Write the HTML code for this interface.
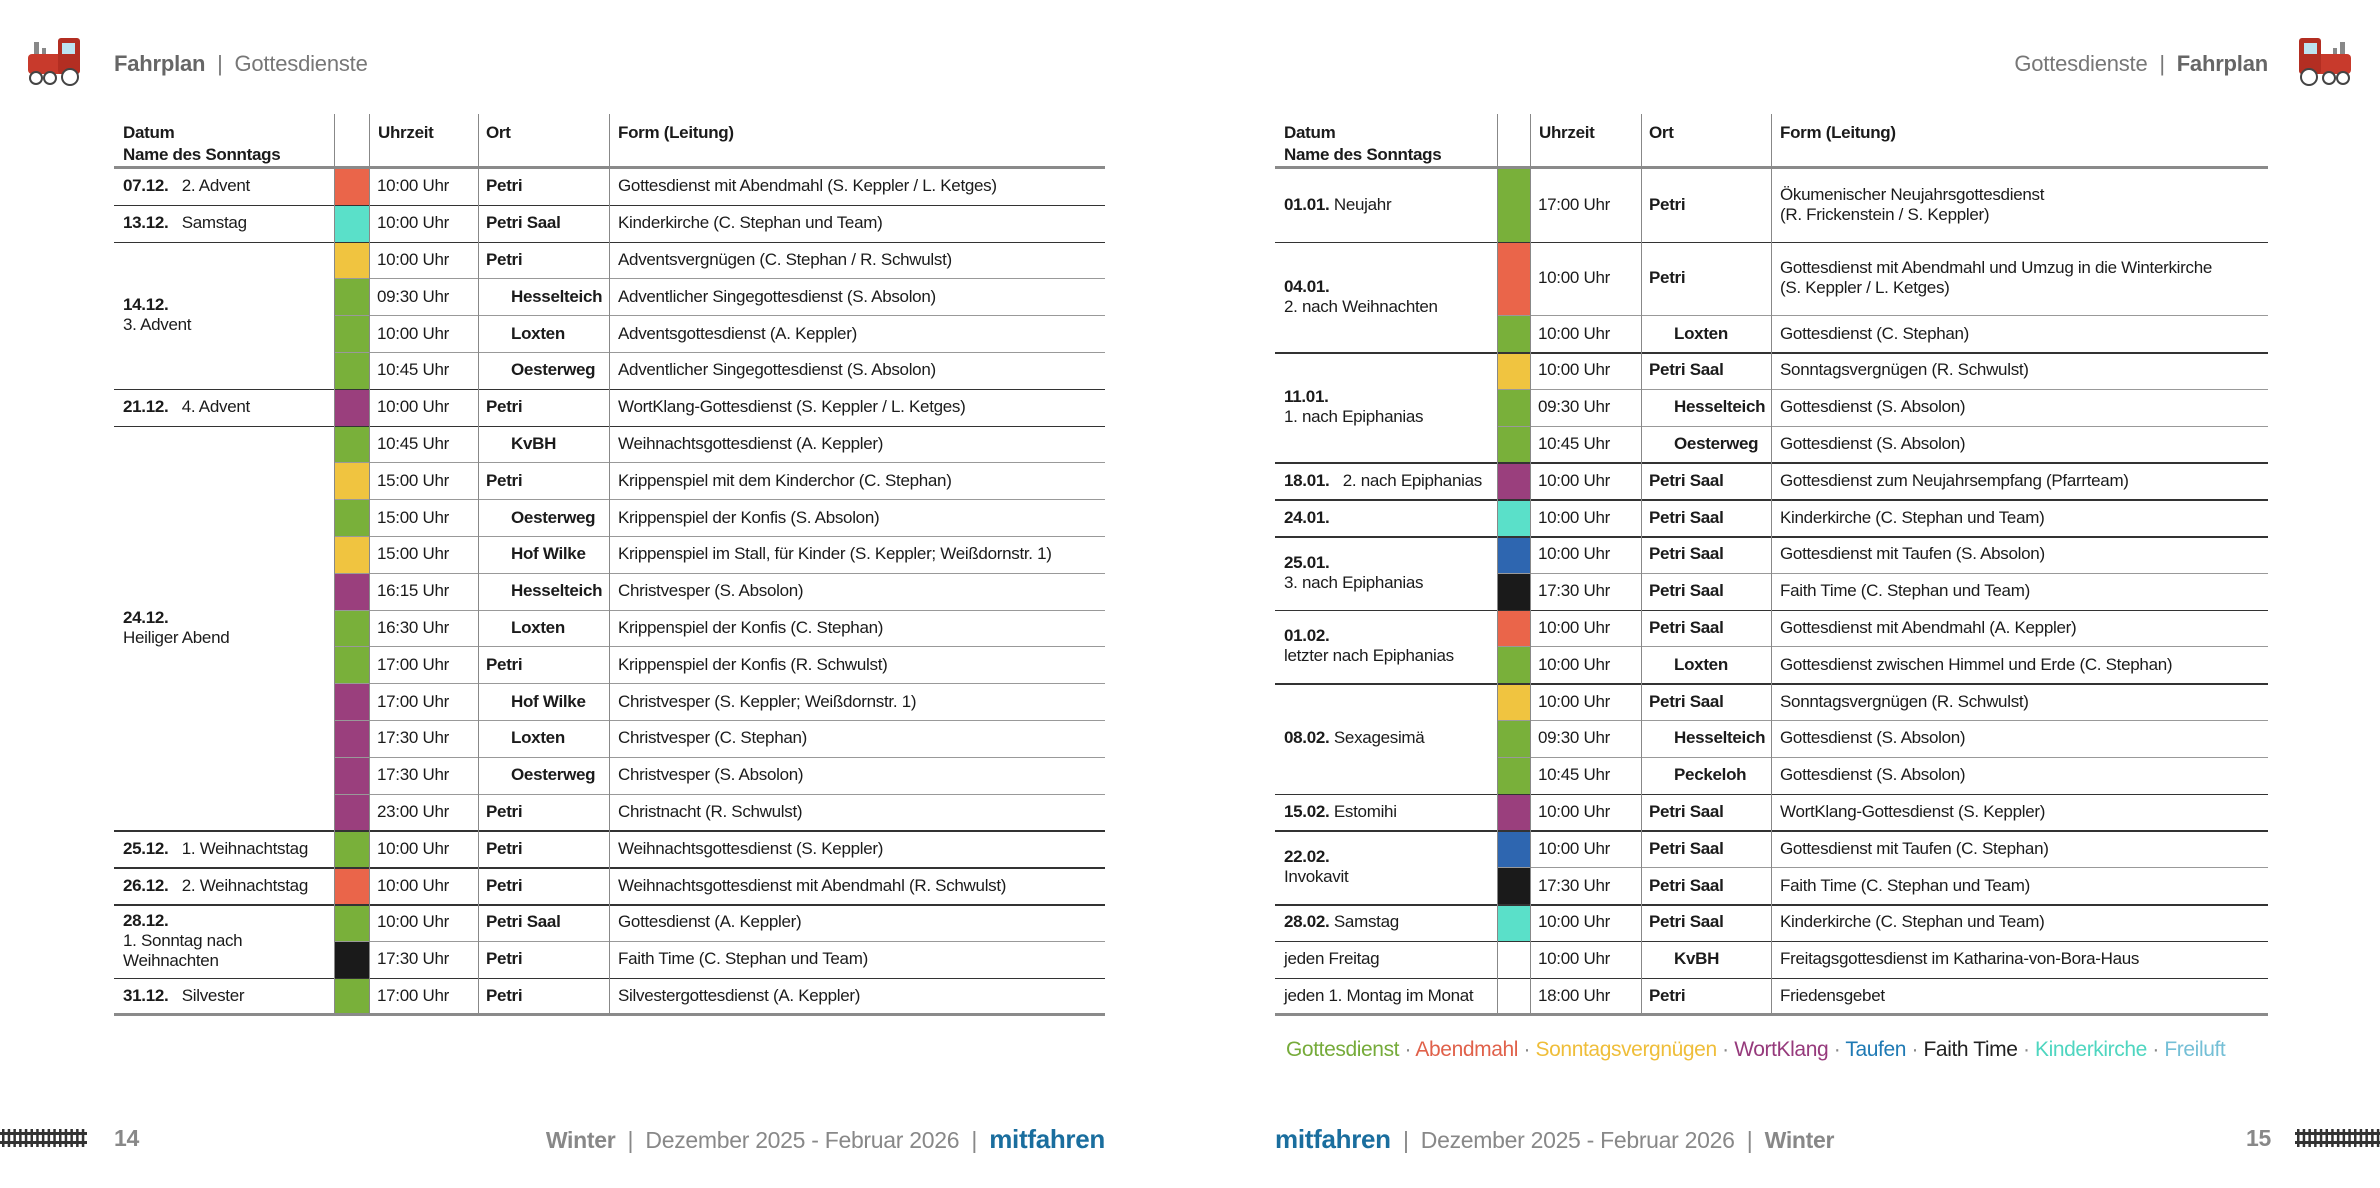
<!DOCTYPE html>
<html><head><meta charset="utf-8">
<style>
body{margin:0;width:2380px;height:1188px;background:#fff;position:relative;overflow:hidden;font-family:"Liberation Sans",sans-serif;color:#1b1b1b}
.a{position:absolute}
.t{position:absolute;font-size:17px;letter-spacing:-0.3px;white-space:nowrap;line-height:20px}
.b{font-weight:bold}
.hd{font-size:22px;color:#777;letter-spacing:-0.2px}
.ft{font-size:23px;color:#888;letter-spacing:-0.3px}
</style></head><body>
<svg class="a" style="left:26px;top:36px" width="58" height="50" viewBox="0 0 58 50">
<rect x="8" y="6" width="5" height="12" fill="#888"/><rect x="16" y="12" width="4" height="8" fill="#888"/>
<rect x="2" y="18" width="40" height="20" rx="4" fill="#c83a2c"/><rect x="32" y="2" width="22" height="36" rx="3" fill="#b32e22"/>
<rect x="36" y="7" width="13" height="11" fill="#bde3f0"/>
<circle cx="10" cy="42" r="6" fill="#fff" stroke="#444" stroke-width="2"/><circle cx="24" cy="42" r="6" fill="#fff" stroke="#444" stroke-width="2"/><circle cx="44" cy="41" r="8" fill="#fff" stroke="#444" stroke-width="2"/>
</svg>
<div class="a hd" style="left:114px;top:51px"><b style="color:#666">Fahrplan</b> &nbsp;|&nbsp; Gottesdienste</div>
<div class="a hd" style="right:112px;top:51px">Gottesdienste &nbsp;|&nbsp; <b style="color:#666">Fahrplan</b></div>
<svg class="a" style="left:2295px;top:36px" width="58" height="50" viewBox="0 0 58 50">
<g transform="translate(58,0) scale(-1,1)">
<rect x="8" y="6" width="5" height="12" fill="#888"/><rect x="16" y="12" width="4" height="8" fill="#888"/>
<rect x="2" y="18" width="40" height="20" rx="4" fill="#c83a2c"/><rect x="32" y="2" width="22" height="36" rx="3" fill="#b32e22"/>
<rect x="36" y="7" width="13" height="11" fill="#bde3f0"/>
<circle cx="10" cy="42" r="6" fill="#fff" stroke="#444" stroke-width="2"/><circle cx="24" cy="42" r="6" fill="#fff" stroke="#444" stroke-width="2"/><circle cx="44" cy="41" r="8" fill="#fff" stroke="#444" stroke-width="2"/></g>
</svg>

<div id="left"></div>
<div id="right"></div>

<div class="a" style="left:1286px;top:1038px;font-size:21px;letter-spacing:-0.4px;white-space:nowrap">
<span style="color:#76ab3a">Gottesdienst</span><span style="color:#888"> · </span><span style="color:#e0614a">Abendmahl</span><span style="color:#888"> · </span><span style="color:#efbe3a">Sonntagsvergnügen</span><span style="color:#888"> · </span><span style="color:#963a7c">WortKlang</span><span style="color:#888"> · </span><span style="color:#1f7ab4">Taufen</span><span style="color:#888"> · </span><span style="color:#222">Faith Time</span><span style="color:#888"> · </span><span style="color:#4fd6c0">Kinderkirche</span><span style="color:#888"> · </span><span style="color:#74bfd6">Freiluft</span></div>

<svg class="a" style="left:0;top:1127px" width="87" height="22"><rect x="0" y="5" width="87" height="3" fill="#333"/><rect x="0" y="14" width="87" height="3" fill="#333"/><g id="tl"></g></svg>
<svg class="a" style="left:2295px;top:1127px" width="87" height="22"><rect x="0" y="5" width="87" height="3" fill="#333"/><rect x="0" y="14" width="87" height="3" fill="#333"/><g id="tr"></g></svg>
<div class="a ft b" style="left:114px;top:1125px">14</div>
<div class="a ft" style="right:1275px;top:1124px"><b style="color:#888">Winter</b> &nbsp;|&nbsp; Dezember 2025 - Februar 2026 &nbsp;|&nbsp; <b style="color:#1a6e9e;font-size:26px">mitfahren</b></div>
<div class="a ft" style="left:1275px;top:1124px"><b style="color:#1a6e9e;font-size:26px">mitfahren</b> &nbsp;|&nbsp; Dezember 2025 - Februar 2026 &nbsp;|&nbsp; <b style="color:#888">Winter</b></div>
<div class="a ft b" style="left:2246px;top:1125px">15</div>

<script>
const C={g:'#79b03a',r:'#ea654a',c:'#5ae0c9',y:'#f0c440',p:'#9a3f7d',b:'#2e66b0',k:'#1a1a1a',n:'#fff'};
const leftGroups=[
 {d:'07.12.',n:'2. Advent',inl:1,rows:[['r','10:00 Uhr','Petri',0,'Gottesdienst mit Abendmahl (S. Keppler / L. Ketges)']]},
 {d:'13.12.',n:'Samstag',inl:1,rows:[['c','10:00 Uhr','Petri Saal',0,'Kinderkirche (C. Stephan und Team)']]},
 {d:'14.12.',n:'3. Advent',rows:[['y','10:00 Uhr','Petri',0,'Adventsvergnügen (C. Stephan / R. Schwulst)'],['g','09:30 Uhr','Hesselteich',1,'Adventlicher Singegottesdienst (S. Absolon)'],['g','10:00 Uhr','Loxten',1,'Adventsgottesdienst (A. Keppler)'],['g','10:45 Uhr','Oesterweg',1,'Adventlicher Singegottesdienst (S. Absolon)']]},
 {d:'21.12.',n:'4. Advent',inl:1,rows:[['p','10:00 Uhr','Petri',0,'WortKlang-Gottesdienst (S. Keppler / L. Ketges)']]},
 {d:'24.12.',n:'Heiliger Abend',rows:[['g','10:45 Uhr','KvBH',1,'Weihnachtsgottesdienst (A. Keppler)'],['y','15:00 Uhr','Petri',0,'Krippenspiel mit dem Kinderchor (C. Stephan)'],['g','15:00 Uhr','Oesterweg',1,'Krippenspiel der Konfis (S. Absolon)'],['y','15:00 Uhr','Hof Wilke',1,'Krippenspiel im Stall, für Kinder (S. Keppler; Weißdornstr. 1)'],['p','16:15 Uhr','Hesselteich',1,'Christvesper (S. Absolon)'],['g','16:30 Uhr','Loxten',1,'Krippenspiel der Konfis (C. Stephan)'],['g','17:00 Uhr','Petri',0,'Krippenspiel der Konfis (R. Schwulst)'],['p','17:00 Uhr','Hof Wilke',1,'Christvesper (S. Keppler; Weißdornstr. 1)'],['p','17:30 Uhr','Loxten',1,'Christvesper (C. Stephan)'],['p','17:30 Uhr','Oesterweg',1,'Christvesper (S. Absolon)'],['p','23:00 Uhr','Petri',0,'Christnacht (R. Schwulst)']]},
 {d:'25.12.',n:'1. Weihnachtstag',inl:1,rows:[['g','10:00 Uhr','Petri',0,'Weihnachtsgottesdienst (S. Keppler)']]},
 {d:'26.12.',n:'2. Weihnachtstag',inl:1,rows:[['r','10:00 Uhr','Petri',0,'Weihnachtsgottesdienst mit Abendmahl (R. Schwulst)']]},
 {d:'28.12.',n:'1. Sonntag nach<br>Weihnachten',rows:[['g','10:00 Uhr','Petri Saal',0,'Gottesdienst (A. Keppler)'],['k','17:30 Uhr','Petri',0,'Faith Time (C. Stephan und Team)']]},
 {d:'31.12.',n:'Silvester',inl:1,rows:[['g','17:00 Uhr','Petri',0,'Silvestergottesdienst (A. Keppler)']]}
];
const rightGroups=[
 {d:'01.01.',n:'Neujahr',inl:2,rows:[['g','17:00 Uhr','Petri',0,'Ökumenischer Neujahrsgottesdienst<br>(R. Frickenstein / S. Keppler)',2]]},
 {d:'04.01.',n:'2. nach Weihnachten',rows:[['r','10:00 Uhr','Petri',0,'Gottesdienst mit Abendmahl und Umzug in die Winterkirche<br>(S. Keppler / L. Ketges)',2],['g','10:00 Uhr','Loxten',1,'Gottesdienst (C. Stephan)']]},
 {d:'11.01.',n:'1. nach Epiphanias',rows:[['y','10:00 Uhr','Petri Saal',0,'Sonntagsvergnügen (R. Schwulst)'],['g','09:30 Uhr','Hesselteich',1,'Gottesdienst (S. Absolon)'],['g','10:45 Uhr','Oesterweg',1,'Gottesdienst (S. Absolon)']]},
 {d:'18.01.',n:'2. nach Epiphanias',inl:1,rows:[['p','10:00 Uhr','Petri Saal',0,'Gottesdienst zum Neujahrsempfang (Pfarrteam)']]},
 {d:'24.01.',n:'',inl:1,rows:[['c','10:00 Uhr','Petri Saal',0,'Kinderkirche (C. Stephan und Team)']]},
 {d:'25.01.',n:'3. nach Epiphanias',rows:[['b','10:00 Uhr','Petri Saal',0,'Gottesdienst mit Taufen (S. Absolon)'],['k','17:30 Uhr','Petri Saal',0,'Faith Time (C. Stephan und Team)']]},
 {d:'01.02.',n:'letzter nach Epiphanias',rows:[['r','10:00 Uhr','Petri Saal',0,'Gottesdienst mit Abendmahl (A. Keppler)'],['g','10:00 Uhr','Loxten',1,'Gottesdienst zwischen Himmel und Erde (C. Stephan)']]},
 {d:'08.02.',n:'Sexagesimä',inl:2,rows:[['y','10:00 Uhr','Petri Saal',0,'Sonntagsvergnügen (R. Schwulst)'],['g','09:30 Uhr','Hesselteich',1,'Gottesdienst (S. Absolon)'],['g','10:45 Uhr','Peckeloh',1,'Gottesdienst (S. Absolon)']]},
 {d:'15.02.',n:'Estomihi',inl:2,rows:[['p','10:00 Uhr','Petri Saal',0,'WortKlang-Gottesdienst (S. Keppler)']]},
 {d:'22.02.',n:'Invokavit',rows:[['b','10:00 Uhr','Petri Saal',0,'Gottesdienst mit Taufen (C. Stephan)'],['k','17:30 Uhr','Petri Saal',0,'Faith Time (C. Stephan und Team)']]},
 {d:'28.02.',n:'Samstag',inl:2,rows:[['c','10:00 Uhr','Petri Saal',0,'Kinderkirche (C. Stephan und Team)']]},
 {d:'',n:'jeden Freitag',inl:3,rows:[['n','10:00 Uhr','KvBH',1,'Freitagsgottesdienst im Katharina-von-Bora-Haus']]},
 {d:'',n:'jeden 1. Montag im Monat',inl:3,rows:[['n','18:00 Uhr','Petri',0,'Friedensgebet']]}
];
const RH=36.8,TOP=114,HH=54;
function el(parent,cls,css,html,name){const e=document.createElement('div');e.className=cls;e.style.cssText=css;if(html!==undefined)e.innerHTML=html;


parent.appendChild(e);return e;}
function table(host,x0,w,groups){
 const xs=[x0];w.forEach(v=>xs.push(xs[xs.length-1]+v));
 let y=TOP+HH;
 groups.forEach(g=>{g.h=g.rows.reduce((s,r)=>s+(r[5]||1)*RH,0);});
 const bottom=y+groups.reduce((s,g)=>s+g.h,0);
 el(host,'t b','left:'+(xs[0]+9)+'px;top:'+(TOP+8)+'px;line-height:22px','Datum<br>Name des Sonntags','header-datum');
 el(host,'t b','left:'+(xs[2]+9)+'px;top:'+(TOP+8)+'px;line-height:22px','Uhrzeit','header-uhrzeit');
 el(host,'t b','left:'+(xs[3]+8)+'px;top:'+(TOP+8)+'px;line-height:22px','Ort','header-ort');
 el(host,'t b','left:'+(xs[4]+9)+'px;top:'+(TOP+8)+'px;line-height:22px','Form (Leitung)','header-form');
 groups.forEach((g,gi)=>{
  const gy=y;
  let lab;
  if(g.inl===1) lab='<b>'+g.d+'</b>&nbsp;&nbsp; '+g.n;
  else if(g.inl===2) lab='<b>'+g.d+'</b> '+g.n;
  else if(g.inl===3) lab=g.n;
  else lab='<b>'+g.d+'</b><br>'+g.n;
  el(host,'a','left:'+(xs[0]+9)+'px;top:'+gy+'px;height:'+g.h+'px;display:flex;align-items:center;font-size:17px;letter-spacing:-0.3px;line-height:20px;white-space:nowrap','<div>'+lab+'</div>','date-cell-'+(g.d||('row'+gi)));
  g.rows.forEach((r,ri)=>{
   const h=(r[5]||1)*RH;
   el(host,'a','left:'+xs[1]+'px;top:'+(y+1)+'px;width:'+w[1]+'px;height:'+(h-1)+'px;background:'+C[r[0]],undefined,'category-color-cell');
   el(host,'t','left:'+(xs[2]+8)+'px;top:'+(y+h/2-10)+'px','<span>'+r[1]+'</span>','time-cell');
   el(host,'t b','left:'+(xs[3]+(r[3]?33:8))+'px;top:'+(y+h/2-10)+'px',r[2],'location-cell');
   const lines=(r[4].match(/<br>/g)||[]).length+1;
   el(host,'t','left:'+(xs[4]+9)+'px;top:'+(y+h/2-10*lines)+'px',r[4],'service-cell');
   if(ri>0) el(host,'a','left:'+xs[1]+'px;top:'+y+'px;width:'+(xs[5]-xs[1])+'px;height:1px;background:#999',undefined,'row-divider');
   y+=h;
  });
  if(gi>0) el(host,'a','left:'+xs[0]+'px;top:'+gy+'px;width:'+(xs[5]-xs[0])+'px;height:1.5px;background:#333',undefined,'group-divider');
 });
 for(let i=1;i<5;i++) el(host,'a','left:'+xs[i]+'px;top:'+TOP+'px;width:1px;height:'+(bottom-TOP)+'px;background:#888',undefined,'column-divider');
 el(host,'a','left:'+xs[0]+'px;top:'+(TOP+HH-2)+'px;width:'+(xs[5]-xs[0])+'px;height:3px;background:#8a8a8a',undefined,'header-rule');
 el(host,'a','left:'+xs[0]+'px;top:'+(bottom-1)+'px;width:'+(xs[5]-xs[0])+'px;height:3px;background:#8a8a8a',undefined,'bottom-rule');
}
table(document.getElementById('left'),114,[220,35,109,131,496],leftGroups);
table(document.getElementById('right'),1275,[222,33,111,130,497],rightGroups);
['tl','tr'].forEach(id=>{const g=document.getElementById(id);for(let i=0;i<15;i++){const r=document.createElementNS('http://www.w3.org/2000/svg','rect');r.setAttribute('x',2+i*5.7);r.setAttribute('y',2);r.setAttribute('width',2.5);r.setAttribute('height',18);r.setAttribute('fill','#333');


g.appendChild(r);}});
</script>
</body></html>
